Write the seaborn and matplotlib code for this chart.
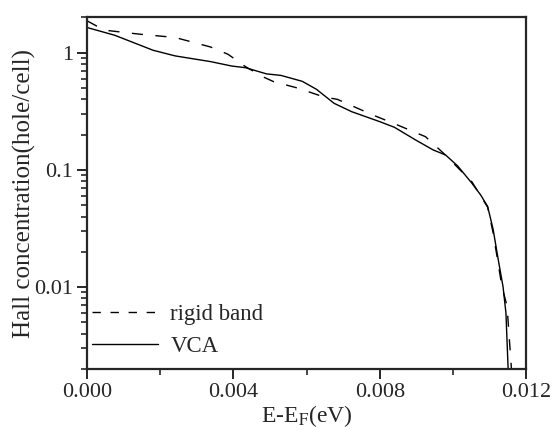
import numpy as np
import pandas as pd
import matplotlib
matplotlib.use('Agg')
import matplotlib.pyplot as plt
import seaborn as sns
from matplotlib.ticker import MultipleLocator, LogLocator, NullFormatter, FixedLocator

# Data
vca_x = [0.0, 0.00075, 0.0018, 0.0024, 0.00337, 0.00395, 0.00433, 0.0049, 0.0053,
         0.00588, 0.00627, 0.00675, 0.00723, 0.0080, 0.0084, 0.00898, 0.00946,
         0.0098, 0.01013, 0.01052, 0.01076, 0.01095, 0.0111, 0.01124, 0.01137,
         0.01145, 0.01151]
vca_y = [1.64, 1.41, 1.05, 0.94, 0.84, 0.77, 0.745, 0.66, 0.64,
         0.57, 0.487, 0.37, 0.314, 0.258, 0.231, 0.18, 0.148,
         0.134, 0.108, 0.0769, 0.061, 0.0487, 0.031, 0.0171, 0.0101,
         0.006, 0.002]

rigid_x = [0.0, 0.00046, 0.00143, 0.0024, 0.00337, 0.00385, 0.00433, 0.00482, 0.0051,
           0.00578, 0.00646, 0.00684, 0.0078, 0.00848, 0.00925, 0.00974, 0.01052,
           0.01095, 0.0111, 0.01134, 0.01148, 0.0116]
rigid_y = [1.87, 1.56, 1.44, 1.35, 1.12, 0.97, 0.76, 0.62, 0.566,
           0.497, 0.42, 0.40, 0.295, 0.242, 0.192, 0.139, 0.079,
           0.048, 0.029, 0.0101, 0.0069, 0.002]

df_vca = pd.DataFrame({'x': vca_x, 'y': vca_y})
df_rigid = pd.DataFrame({'x': rigid_x, 'y': rigid_y})

sns.set_style('ticks')
plt.rcParams['font.family'] = ['Liberation Serif', 'DejaVu Serif']
plt.rcParams['mathtext.fontset'] = 'stix'

fig = plt.figure(figsize=(5.52, 4.30), dpi=100)
ax = fig.add_axes([0.158, 0.142, 0.795, 0.818])

sns.lineplot(data=df_rigid, x='x', y='y', ax=ax, color='black', linewidth=1.0,
             estimator=None, sort=False, label='rigid band')
ax.lines[-1].set_dashes([8, 9])
sns.lineplot(data=df_vca, x='x', y='y', ax=ax, color='black', linewidth=1.0,
             estimator=None, sort=False, label='VCA')

ax.set_yscale('log')
ax.set_xlim(0, 0.012)
ax.set_ylim(0.002, 2.01)

ax.xaxis.set_major_locator(FixedLocator([0.0, 0.004, 0.008, 0.012]))
ax.xaxis.set_minor_locator(MultipleLocator(0.002))
ax.set_xticklabels(['0.000', '0.004', '0.008', '0.012'])
ax.yaxis.set_major_locator(FixedLocator([0.01, 0.1, 1]))
ax.set_yticklabels(['0.01', '0.1', '1'])
ax.yaxis.set_minor_locator(LogLocator(base=10, subs=np.arange(2, 10)))
ax.yaxis.set_minor_formatter(NullFormatter())

ax.tick_params(which='major', direction='out', length=7, width=1.4, labelsize=16,
               pad=3, top=False, right=False)
ax.tick_params(which='minor', direction='out', length=4.5, width=1.2,
               top=False, right=False)
for s in ax.spines.values():
    s.set_linewidth(1.6)
    s.set_visible(True)

ax.set_xlabel(r'E-E$_\mathrm{F}$(eV)', fontsize=17, labelpad=1)
ax.set_ylabel('Hall concentration(hole/cell)', fontsize=18, labelpad=-1)

leg = ax.legend(loc='lower left', bbox_to_anchor=(0.012, 0.035), frameon=False,
                fontsize=16.5, handlelength=2.85, handletextpad=0.55,
                borderaxespad=0, borderpad=0, labelspacing=0.45)
for h in leg.get_lines():
    h.set_linewidth(1.0)
leg.get_lines()[0].set_dashes([6, 7])

fig.savefig('out.png', dpi=100)
